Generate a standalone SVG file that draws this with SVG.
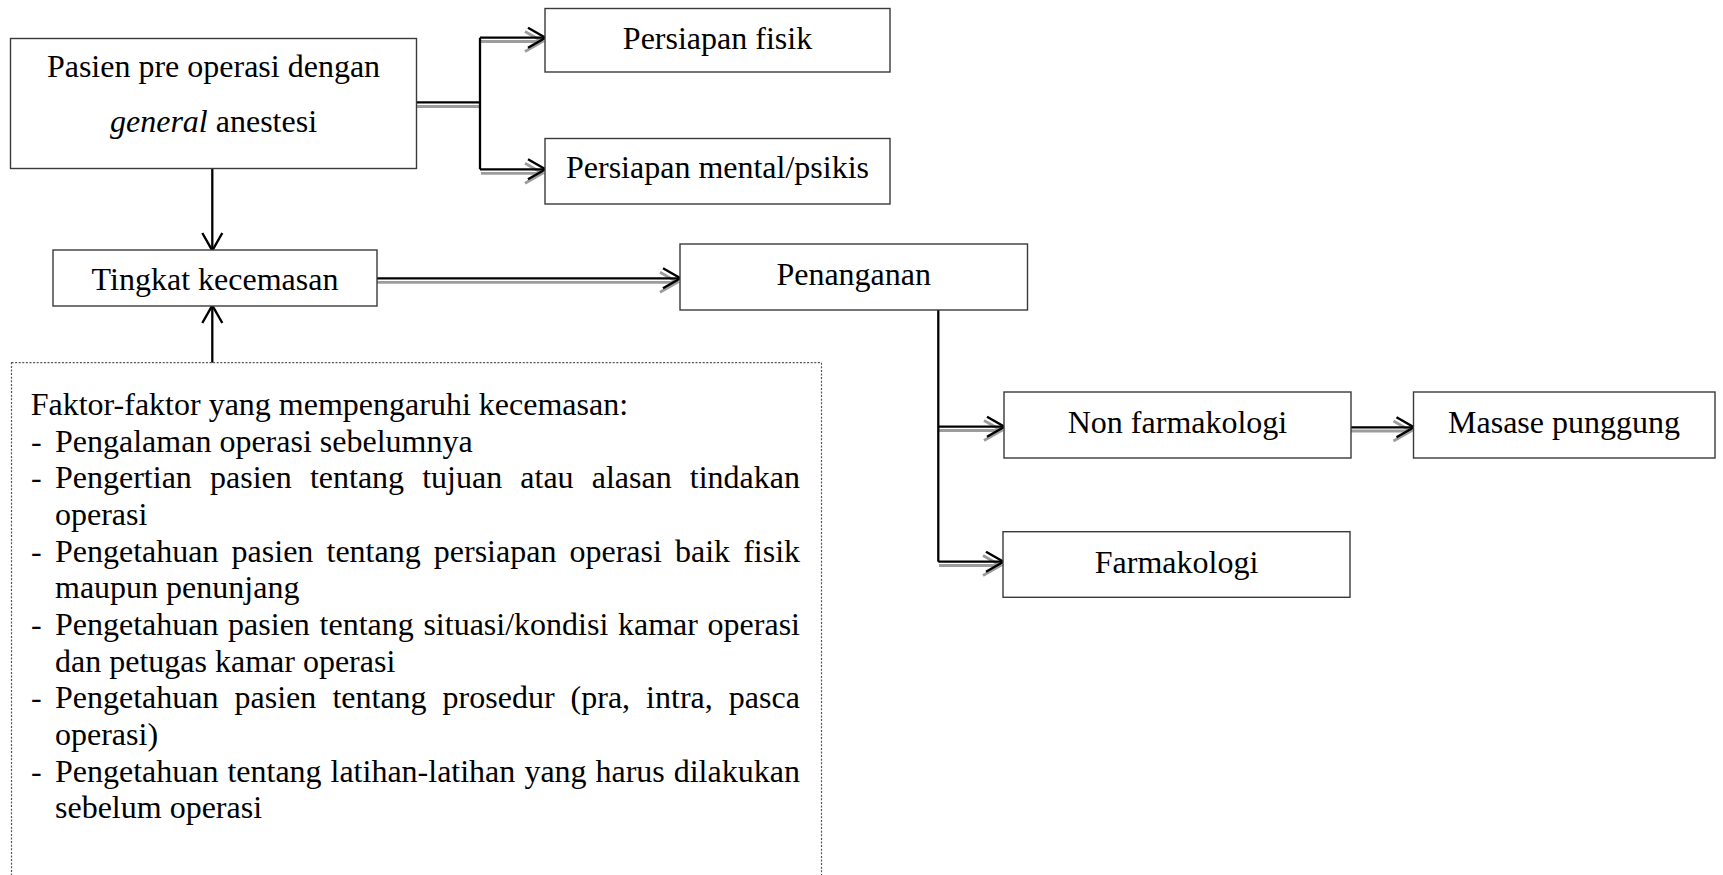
<svg xmlns="http://www.w3.org/2000/svg" width="1723" height="875" viewBox="0 0 1723 875">
<style>
text{font-family:"Liberation Serif","Times New Roman",serif;font-size:32px;fill:#000}
.c{text-anchor:middle}
.box{fill:#fff;stroke:#3a3a3a;stroke-width:1.4}
.dot{fill:none;stroke:#555;stroke-width:1.2;stroke-dasharray:2 1.6}
.ln{fill:none;stroke:#000;stroke-width:2.3}
.sh{fill:none;stroke:#9c9c9c;stroke-width:2.8}
</style>
<defs>
<marker id="ah" viewBox="-3 -3 24 26" markerWidth="24" markerHeight="26" refX="17" refY="10" orient="auto" markerUnits="userSpaceOnUse">
<path d="M0,0 L17.5,10 L0,20" fill="none" stroke="#000" stroke-width="2.4"/>
</marker>
<marker id="ahs" viewBox="-3 -3 24 26" markerWidth="24" markerHeight="26" refX="17" refY="10" orient="auto" markerUnits="userSpaceOnUse">
<path d="M0,0 L17.5,10 L0,20" fill="none" stroke="#9c9c9c" stroke-width="2.8"/>
</marker>
</defs>
<rect width="1723" height="875" fill="#fff"/>

<g id="connectors">
<path class="sh" d="M417,106.5 H480"/>
<path class="sh" d="M481,41.5 H542" marker-end="url(#ahs)"/>
<path class="sh" d="M481,173.3 H542" marker-end="url(#ahs)"/>
<path class="sh" d="M377,282.3 H677" marker-end="url(#ahs)"/>
<path class="sh" d="M939,430.5 H1001" marker-end="url(#ahs)"/>
<path class="sh" d="M939,565.5 H1000" marker-end="url(#ahs)"/>
<path class="sh" d="M1351,431 H1410.5" marker-end="url(#ahs)"/>
<path class="ln" d="M417,102.3 H480"/>
<path class="ln" d="M480,37.7 V169.3"/>
<path class="ln" d="M480,37.7 H545" marker-end="url(#ah)"/>
<path class="ln" d="M480,169.3 H545" marker-end="url(#ah)"/>
<path class="ln" d="M212.3,168.3 V250" marker-end="url(#ah)"/>
<path class="ln" d="M212.3,362.7 V306" marker-end="url(#ah)"/>
<path class="ln" d="M377,278.3 H680" marker-end="url(#ah)"/>
<path class="ln" d="M938.3,310 V561.7"/>
<path class="ln" d="M938.3,426.7 H1004" marker-end="url(#ah)"/>
<path class="ln" d="M938.3,561.7 H1003" marker-end="url(#ah)"/>
<path class="ln" d="M1351,427.3 H1413.5" marker-end="url(#ah)"/>
</g>

<g id="pasien">
<rect class="box" x="10.5" y="38.5" width="406" height="130"/>
<text class="c" x="213.5" y="77">Pasien pre operasi dengan</text>
<text class="c" x="213.5" y="132"><tspan font-style="italic">general</tspan> anestesi</text>
</g>

<g id="fisik">
<rect class="box" x="545" y="8.5" width="345" height="63.5"/>
<text class="c" x="717.5" y="49">Persiapan fisik</text>
</g>

<g id="mental">
<rect class="box" x="545" y="138.5" width="345" height="65.5"/>
<text class="c" x="717.5" y="178">Persiapan mental/psikis</text>
</g>

<g id="tingkat">
<rect class="box" x="53" y="250" width="324" height="56"/>
<text class="c" x="215" y="289.5">Tingkat kecemasan</text>
</g>

<g id="penanganan">
<rect class="box" x="680" y="244" width="347.5" height="66"/>
<text class="c" x="853.7" y="284.5">Penanganan</text>
</g>

<g id="nonfarmakologi">
<rect class="box" x="1004" y="392" width="347" height="66"/>
<text class="c" x="1177.5" y="433">Non farmakologi</text>
</g>

<g id="masase">
<rect class="box" x="1413.5" y="392" width="301.5" height="66"/>
<text class="c" x="1564" y="433">Masase punggung</text>
</g>

<g id="farmakologi">
<rect class="box" x="1003" y="531.7" width="347" height="65.6"/>
<text class="c" x="1176.5" y="573">Farmakologi</text>
</g>

<g id="faktor">
<rect class="dot" x="11.5" y="362.7" width="810" height="530"/>
<text x="30.7" y="415">Faktor-faktor yang mempengaruhi kecemasan:</text>
<text x="31" y="451.7">-</text>
<text x="55" y="451.7">Pengalaman operasi sebelumnya</text>
<text x="31" y="488.3">-</text>
<text y="488.3"><tspan x="55">Pengertian</tspan><tspan x="210">pasien</tspan><tspan x="309.9">tentang</tspan><tspan x="422.2">tujuan</tspan><tspan x="520.3">atau</tspan><tspan x="591.7">alasan</tspan><tspan x="689.8">tindakan</tspan></text>
<text x="55" y="525">operasi</text>
<text x="31" y="561.7">-</text>
<text y="561.7"><tspan x="55">Pengetahuan</tspan><tspan x="231.6">pasien</tspan><tspan x="326.5">tentang</tspan><tspan x="433.8">persiapan</tspan><tspan x="569.5">operasi</tspan><tspan x="675">baik</tspan><tspan x="743.2">fisik</tspan></text>
<text x="55" y="598.3">maupun penunjang</text>
<text x="31" y="635">-</text>
<text y="635"><tspan x="55">Pengetahuan</tspan><tspan x="228.1">pasien</tspan><tspan x="319.6">tentang</tspan><tspan x="423.4">situasi/kondisi</tspan><tspan x="618">kamar</tspan><tspan x="707.6">operasi</tspan></text>
<text x="55" y="671.7">dan petugas kamar operasi</text>
<text x="31" y="708.3">-</text>
<text y="708.3"><tspan x="55">Pengetahuan</tspan><tspan x="234.5">pasien</tspan><tspan x="332.4">tentang</tspan><tspan x="442.6">prosedur</tspan><tspan x="570.6">(pra,</tspan><tspan x="646.1">intra,</tspan><tspan x="728.8">pasca</tspan></text>
<text x="55" y="745">operasi)</text>
<text x="31" y="781.7">-</text>
<text y="781.7"><tspan x="55">Pengetahuan</tspan><tspan x="227.4">tentang</tspan><tspan x="330.5">latihan-latihan</tspan><tspan x="524.4">yang</tspan><tspan x="595.5">harus</tspan><tspan x="673.7">dilakukan</tspan></text>
<text x="55" y="818.3">sebelum operasi</text>
</g>
</svg>
